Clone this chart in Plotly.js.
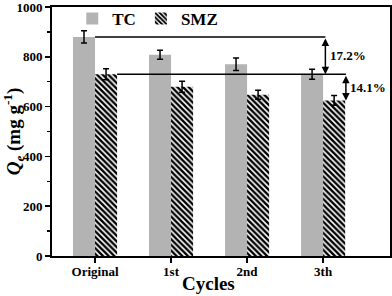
<!DOCTYPE html>
<html>
<head>
<meta charset="utf-8">
<script src="https://cdn.plot.ly/plotly-3.0.1.min.js"></script>
<style>
  html, body { margin: 0; padding: 0; background: #fff; }
  #chart { width: 392px; height: 296px; }
</style>
</head>
<body>
<div id="chart"></div>
<script>
// adsorption capacity over regeneration cycles
const cycles = ['Original', '1st', '2nd', '3th'];
const tcValues = [880, 808, 770, 730];
const tcErr = [25, 18, 25, 20];
const smzValues = [730, 680, 648, 625];
const smzErr = [22, 22, 18, 20];
const dropLabels = ['17.2%', '14.1%'];
const yTicks = [0, 200, 400, 600, 800, 1000];

const xPos = cycles.map((c, i) => i);
const barW = 0.29;
const font = { family: 'Liberation Serif, Times New Roman, serif', color: '#000', weight: 'bold' };

const tcTrace = {
  type: 'bar',
  name: 'TC',
  x: xPos,
  y: tcValues,
  width: barW,
  offset: -barW,
  marker: { color: '#b3b3b3', line: { width: 0 } },
  error_y: { type: 'data', array: tcErr, visible: true, color: '#000', thickness: 1.5, width: 3 },
};

const smzTrace = {
  type: 'bar',
  name: 'SMZ',
  x: xPos,
  y: smzValues,
  width: barW,
  offset: 0,
  marker: {
    color: '#fff',
    line: { width: 0 },
    pattern: { shape: '\\', fgcolor: '#000', bgcolor: '#fff', size: 4, solidity: 0.6 },
  },
  error_y: { type: 'data', array: smzErr, visible: true, color: '#000', thickness: 1.5, width: 3 },
};

// reference lines and arrows for the capacity drop
const last = cycles.length - 1;
const arrow1X = 3.03;
const arrow2X = 3.30;
const shapes = [
  { type: 'line', xref: 'x', yref: 'y', x0: 0, x1: arrow1X, y0: tcValues[0], y1: tcValues[0], line: { color: '#000', width: 1.5 } },
  { type: 'line', xref: 'x', yref: 'y', x0: barW, x1: arrow2X, y0: smzValues[0], y1: smzValues[0], line: { color: '#000', width: 1.5 } },
];

const annotations = [
  {
    xref: 'x', yref: 'y', axref: 'x', ayref: 'y',
    x: arrow1X, y: tcValues[last], ax: arrow1X, ay: tcValues[0],
    showarrow: true, arrowside: 'end+start', arrowhead: 2, arrowsize: 1, arrowwidth: 1.5, arrowcolor: '#000', text: '',
  },
  {
    xref: 'x', yref: 'y', axref: 'x', ayref: 'y',
    x: arrow2X, y: smzValues[last], ax: arrow2X, ay: smzValues[0],
    showarrow: true, arrowside: 'end+start', arrowhead: 2, arrowsize: 1, arrowwidth: 1.5, arrowcolor: '#000', text: '',
  },
  {
    xref: 'x', yref: 'y', x: arrow1X + 0.03, y: (tcValues[0] + tcValues[last]) / 2,
    xanchor: 'left', yanchor: 'middle', showarrow: false, text: dropLabels[0],
    font: { ...font, size: 13 },
  },
  {
    xref: 'x', yref: 'y', x: arrow2X + 0.03, y: (smzValues[0] + smzValues[last]) / 2,
    xanchor: 'left', yanchor: 'middle', showarrow: false, text: dropLabels[1],
    font: { ...font, size: 13 },
  },
  // x axis title, set a little left of centre as in the figure
  {
    xref: 'paper', yref: 'paper', x: 0.464, y: -0.112,
    xanchor: 'center', yanchor: 'middle', showarrow: false, text: 'Cycles',
    font: { ...font, size: 19 },
  },
];

const layout = {
  width: 392,
  height: 296,
  margin: { l: 52, r: 2, t: 6, b: 40 },
  paper_bgcolor: '#fff',
  plot_bgcolor: '#fff',
  font: font,
  showlegend: true,
  legend: {
    orientation: 'h',
    x: 0.06, y: 1.02, xanchor: 'left', yanchor: 'top',
    bgcolor: 'rgba(0,0,0,0)',
    font: { ...font, size: 17 },
    itemwidth: 30,
    tracegroupgap: 0,
  },
  xaxis: {
    range: [-0.566, 3.88],
    tickvals: xPos,
    ticktext: cycles,
    ticks: 'outside', ticklen: 5, tickwidth: 1.5, tickcolor: '#000',
    ticklabelstandoff: -3,
    showline: true, linecolor: '#000', linewidth: 2, mirror: true,
    showgrid: false, zeroline: false,
    tickfont: { ...font, size: 13 },
  },
  yaxis: {
    range: [0, 1000],
    tickvals: yTicks,
    ticktext: yTicks.map(String),
    ticklabeloverflow: 'allow',
    ticks: 'outside', ticklen: 5, tickwidth: 1.5, tickcolor: '#000',
    minor: { dtick: 100, ticks: 'outside', ticklen: 3, tickwidth: 1.5, tickcolor: '#000', showgrid: false },
    showline: true, linecolor: '#000', linewidth: 2, mirror: true,
    showgrid: false, zeroline: false,
    tickfont: { ...font, size: 13 },
    title: { text: '<i>Q</i><sub><i>e</i></sub> (mg g<sup>-1</sup>)', font: { ...font, size: 19 }, standoff: 7 },
  },
  shapes: shapes,
  annotations: annotations,
};

Plotly.newPlot('chart', [tcTrace, smzTrace], layout, { displayModeBar: false, staticPlot: true });
</script>
</body>
</html>
